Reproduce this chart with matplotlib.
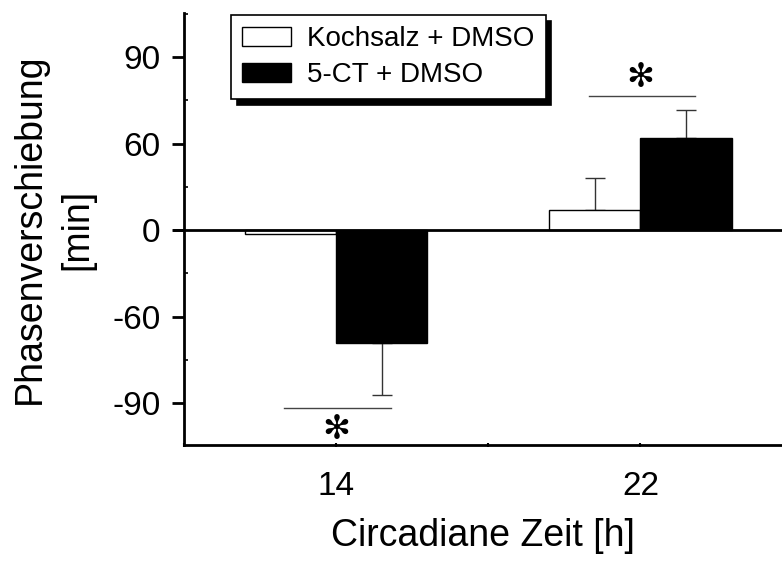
import numpy as np
import matplotlib
matplotlib.use("Agg")
import matplotlib.pyplot as plt
from matplotlib.ticker import FixedLocator

plt.rcParams["font.family"] = ["Liberation Sans", "DejaVu Sans"]

# ===== Daten =====
zeiten = ["14", "22"]
kochsalz = [-2.5, 14.0]
kochsalz_sem = [0.0, 22.0]
ct5 = [-78.0, 64.0]
ct5_sem = [36.0, 19.5]
legende = ["Kochsalz + DMSO", "5-CT + DMSO"]
ytick_pos = [-120, -60, 0, 60, 120]
ytick_txt = ["-90", "-60", "0", "60", "90"]
# Signifikanz-Linien (y-Höhe) je Zeitpunkt
sig_y = [-123.5, 93.0]
# ==================

x = np.array([1.0, 3.0])
w = 0.6

fig = plt.figure(figsize=(7.82, 5.62), dpi=100)
ax = fig.add_axes([184 / 782, 1 - 445 / 562, 1 - 184 / 782, (445 - 13) / 562])

b1 = ax.bar(x - w / 2, kochsalz, w, color="white", edgecolor="black", linewidth=1, zorder=3)
b2 = ax.bar(x + w / 2, ct5, w, color="black", edgecolor="black", linewidth=1, zorder=3)

# einseitige Fehlerbalken (nur in Richtung des Balkens)
for xs, vals, sems in [(x - w / 2, kochsalz, kochsalz_sem), (x + w / 2, ct5, ct5_sem)]:
    for xi, v, s in zip(xs, vals, sems):
        if s <= 0:
            continue
        lo = [[0], [s]] if v > 0 else [[s], [0]]
        ax.errorbar([xi], [v], yerr=lo, fmt="none", ecolor="#333333",
                    elinewidth=1, capsize=7, capthick=1, zorder=2)

ax.axhline(0, color="black", linewidth=2, zorder=4, xmin=-0.016, clip_on=False)

# Signifikanz
for xi, ys in zip(x, sig_y):
    ax.plot([xi - 0.34, xi + 0.36], [ys, ys], color="#444444", lw=1)
    off = -15 if ys < 0 else 13
    ax.text(xi, ys + off, "\u273b", ha="center", va="center", fontsize=24,
            family="DejaVu Sans", color="black")

ax.set_xlim(0, 3.93)
ax.set_ylim(-149, 150.5)

ax.set_yticks(ytick_pos)
ax.set_yticklabels(ytick_txt)
ax.yaxis.set_minor_locator(FixedLocator([-150, -90, -30, 30, 90, 150]))
ax.tick_params(axis="y", which="major", direction="out", length=9, width=2,
               labelsize=24, pad=8)
ax.tick_params(axis="y", which="minor", direction="in", length=3, width=1.2)

ax.set_xticks([0, 1, 2, 3])
ax.set_xticklabels(["", zeiten[0], "", zeiten[1]])
ax.tick_params(axis="x", which="major", direction="inout", length=3, width=1.5,
               labelsize=24, pad=17)

for s in ["top", "right"]:
    ax.spines[s].set_visible(False)
for s in ["left", "bottom"]:
    ax.spines[s].set_linewidth(2)

ax.set_xlabel("Circadiane Zeit [h]", fontsize=27, labelpad=12)
ax.set_ylabel("Phasenverschiebung\n[min]", fontsize=27, labelpad=12, linespacing=1.4)

leg = ax.legend([b1, b2], legende, loc="upper left", bbox_to_anchor=(0.0786, 0.995),
                borderaxespad=0, fontsize=20, frameon=True, fancybox=False,
                handlelength=1.75, handleheight=0.65, handletextpad=0.6,
                labelspacing=0.35, borderpad=0.4,
                shadow={"ox": 4, "oy": -4, "color": "black", "alpha": 1})
leg.get_frame().set_edgecolor("black")
leg.get_frame().set_linewidth(1.2)

fig.savefig("out.png", dpi=100)
